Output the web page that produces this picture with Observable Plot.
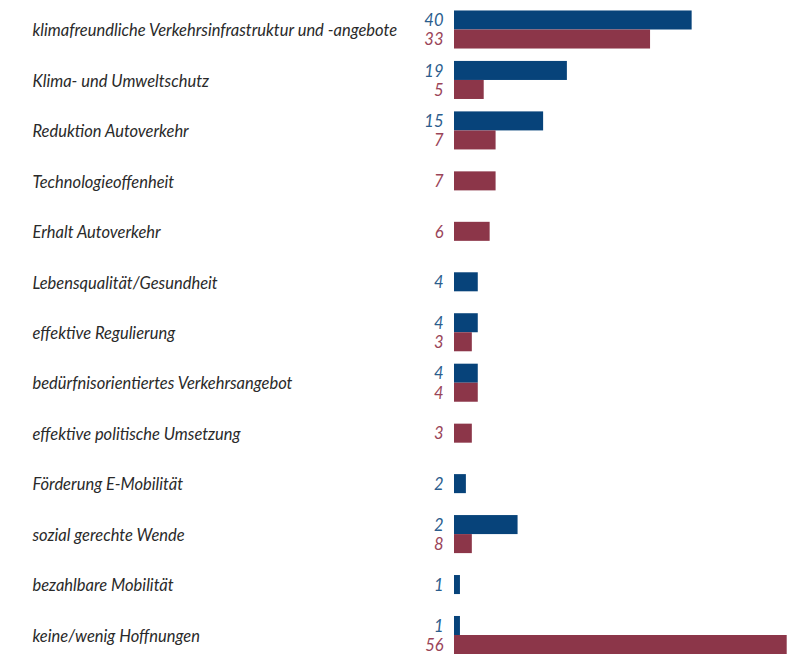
<!DOCTYPE html>
<html>
<head>
<meta charset="utf-8">
<script src="https://cdn.jsdelivr.net/npm/d3@7"></script>
<script src="https://cdn.jsdelivr.net/npm/@observablehq/plot@0.6"></script>
<style>
  html, body { margin: 0; padding: 0; background: #fff; }
  #chart svg { display: block; }
</style>
</head>
<body>
<div id="chart"></div>
<script>
const categories = [
  "klimafreundliche Verkehrsinfrastruktur und -angebote",
  "Klima- und Umweltschutz",
  "Reduktion Autoverkehr",
  "Technologieoffenheit",
  "Erhalt Autoverkehr",
  "Lebensqualität/Gesundheit",
  "effektive Regulierung",
  "bedürfnisorientiertes Verkehrsangebot",
  "effektive politische Umsetzung",
  "Förderung E-Mobilität",
  "sozial gerechte Wende",
  "bezahlbare Mobilität",
  "keine/wenig Hoffnungen"
];
// bar lengths as drawn
const seriesAValues = [40, 19, 15, null, null, 4, 4, 4, null, 2, 10.7, 1, 1];
const seriesBValues = [33, 5, 7, 7, 6, null, 3, 4, 3, null, 3, null, 56];
// value labels as printed
const seriesALabels = ["40", "19", "15", null, null, "4", "4", "4", null, "2", "2", "1", "1"];
const seriesBLabels = ["33", "5", "7", "7", "6", null, "3", "4", "3", null, "8", null, "56"];

const series = ["A", "B"];
const colors = ["#07437a", "#8c3649"];
const labelColors = ["#2b5d8d", "#9a4458"];

const h = 0.377; // bar thickness in row units
const bars = [];
categories.forEach((cat, i) => {
  const present = [];
  if (seriesAValues[i] != null) present.push({s: "A", v: seriesAValues[i], l: seriesALabels[i]});
  if (seriesBValues[i] != null) present.push({s: "B", v: seriesBValues[i], l: seriesBLabels[i]});
  const n = present.length;
  present.forEach((p, k) => {
    const y1 = i - n * h / 2 + k * h;
    bars.push({cat, row: i, series: p.s, value: p.v, label: p.l, y1, y2: y1 + h, ym: y1 + h / 2});
  });
});
const rows = categories.map((c, i) => ({cat: c, row: i}));

const font = "Lato, 'Open Sans', sans-serif";

const chart = Plot.plot({
  width: 805,
  height: 654,
  marginLeft: 454,
  marginRight: 18.3,
  marginTop: 29.5,
  marginBottom: 19,
  style: {fontFamily: font, background: "#fff"},
  x: {domain: [0, 56], axis: null},
  y: {domain: [0, 12], reverse: true, axis: null},
  color: {type: "ordinal", domain: series, range: colors},
  marks: [
    Plot.rectX(bars, {x: "value", y1: "y1", y2: "y2", fill: "series"}),
    Plot.text(bars, {
      x: 0, y: "ym", text: "label", textAnchor: "end", dx: -11, dy: 0.5,
      fill: d => labelColors[series.indexOf(d.series)],
      fontSize: 16.5, fontStyle: "italic"
    }),
    Plot.text(rows, {
      y: "row", text: "cat", frameAnchor: "left", textAnchor: "start", dx: -422, dy: 1,
      fill: "#2a2a2a", fontSize: 16.5, fontStyle: "italic"
    })
  ]
});
document.getElementById("chart").appendChild(chart);
</script>
</body>
</html>
